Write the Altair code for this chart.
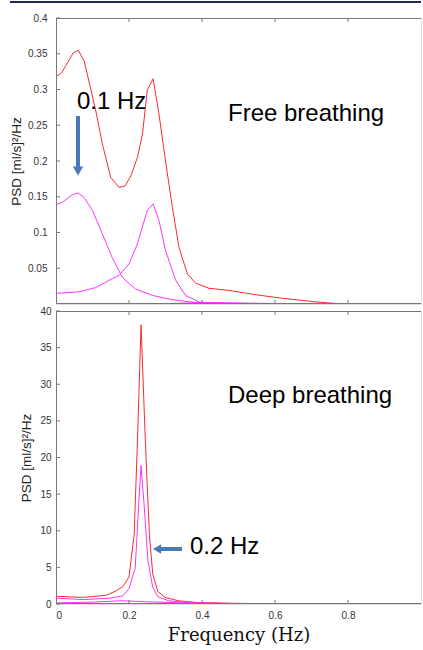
import altair as alt
import pandas as pd

# ---------------- data ----------------
# Free breathing panel
top_red_f = [0, 0.015, 0.047, 0.061, 0.077, 0.09, 0.109, 0.127, 0.150, 0.173, 0.189, 0.205, 0.223, 0.237,
             0.250, 0.266, 0.282, 0.300, 0.319, 0.337, 0.360, 0.383, 0.419, 0.474, 0.547, 0.620, 0.711, 0.784, 1.0]
top_red_p = [0.318, 0.323, 0.351, 0.355, 0.340, 0.312, 0.270, 0.224, 0.177, 0.163, 0.165, 0.179, 0.205, 0.238,
             0.299, 0.315, 0.266, 0.200, 0.135, 0.079, 0.042, 0.029, 0.022, 0.019, 0.013, 0.008, 0.003, 0.0, 0.0]

top_mag1_f = [0, 0.017, 0.045, 0.061, 0.077, 0.10, 0.127, 0.154, 0.182, 0.218, 0.264, 0.319, 0.383, 0.47, 1.0]
top_mag1_p = [0.139, 0.142, 0.153, 0.155, 0.149, 0.131, 0.098, 0.065, 0.037, 0.021, 0.012, 0.006, 0.002, 0.0, 0.0]

top_mag2_f = [0, 0.063, 0.109, 0.145, 0.173, 0.2, 0.223, 0.25, 0.266, 0.282, 0.300, 0.328, 0.355, 0.392, 0.437, 1.0]
top_mag2_p = [0.015, 0.017, 0.023, 0.033, 0.040, 0.056, 0.084, 0.131, 0.140, 0.117, 0.075, 0.033, 0.012, 0.003, 0.0, 0.0]

top_mag3_f = [0, 0.3, 0.40, 0.45, 0.55, 0.7, 1.0]
top_mag3_p = [0.0, 0.0005, 0.002, 0.002, 0.001, 0.0, 0.0]

# Deep breathing panel
bot_red_f = [0, 0.075, 0.138, 0.165, 0.184, 0.2, 0.214, 0.223, 0.233, 0.245, 0.256, 0.265, 0.279, 0.299,
             0.335, 0.388, 0.478, 0.6, 1.0]
bot_red_p = [1.05, 0.9, 1.2, 1.8, 2.4, 3.7, 9.4, 22, 38.1, 22, 9.4, 4.1, 1.7, 0.9, 0.45, 0.2, 0.1, 0.03, 0.0]

bot_mag1_f = [0, 0.075, 0.147, 0.183, 0.2, 0.217, 0.226, 0.233, 0.242, 0.252, 0.265, 0.279, 0.308, 0.353,
              0.433, 0.6, 1.0]
bot_mag1_p = [0.8, 0.6, 0.8, 1.1, 2.1, 4.9, 13.1, 18.9, 13.1, 5.9, 2.3, 1.0, 0.45, 0.2, 0.1, 0.0, 0.0]

bot_mag2_f = [0, 0.1, 0.18, 0.25, 0.35, 0.5, 1.0]
bot_mag2_p = [0.15, 0.25, 0.45, 0.3, 0.15, 0.05, 0.0]

x_tick_values = [0, 0.2, 0.4, 0.6, 0.8]
top_y_ticks = [0.05, 0.1, 0.15, 0.2, 0.25, 0.3, 0.35, 0.4]
bot_y_ticks = [0, 5, 10, 15, 20, 25, 30, 35, 40]

series_names = ["total", "comp1", "comp2", "comp3"]
series_colors = ["#ff2a2a", "#ff33ff", "#ff33ff", "#ff33ff"]


def long_df(items):
    frames = []
    for name, f, p in items:
        frames.append(pd.DataFrame({"f": f, "psd": p, "series": name}))
    return pd.concat(frames, ignore_index=True)


top_df = long_df([("total", top_red_f, top_red_p), ("comp1", top_mag1_f, top_mag1_p),
                  ("comp2", top_mag2_f, top_mag2_p), ("comp3", top_mag3_f, top_mag3_p)])
bot_df = long_df([("total", bot_red_f, bot_red_p), ("comp1", bot_mag1_f, bot_mag1_p),
                  ("comp2", bot_mag2_f, bot_mag2_p)])

W, H_TOP, H_BOT = 365, 286, 293
ARROW = "#4a78b8"
FRAME = "#777"
ytitle = "PSD [ml/s]²/Hz"

color_enc = alt.Color("series:N", scale=alt.Scale(domain=series_names, range=series_colors), legend=None)
one = pd.DataFrame({"a": [0]})


def panel(df, ydomain, yticks, yfmt, w, h, show_x, label_pad, title_pad):
    xscale = alt.Scale(domain=[0, 1], nice=False, zero=False)
    yscale = alt.Scale(domain=ydomain, nice=False)
    if show_x:
        xaxis = alt.Axis(values=x_tick_values, format="~g", grid=False, domain=False, ticks=False,
                         labelFontSize=10, labelColor="#333", labelPadding=6, labelFont="Liberation Sans",
                         title="Frequency (Hz)", titleFont="DejaVu Serif", titleFontSize=18,
                         titleFontWeight="normal", titleColor="#111", titlePadding=6)
    else:
        xaxis = None
    yaxis = alt.Axis(values=yticks, format=yfmt, grid=False, domain=False, ticks=False,
                     labelOverlap=False, labelFlush=False,
                     labelFontSize=10, labelColor="#333", labelPadding=label_pad, labelFont="Liberation Sans",
                     title=ytitle, titleFont="Liberation Sans", titleFontSize=13.5,
                     titleFontWeight="normal", titleColor="#222", titlePadding=title_pad)

    lines = alt.Chart(df).mark_line(strokeWidth=1, clip=True).encode(
        x=alt.X("f:Q", scale=xscale, axis=xaxis, title="Frequency (Hz)"),
        y=alt.Y("psd:Q", scale=yscale, axis=yaxis, title=ytitle),
        color=color_enc,
        detail="series:N",
    )
    xt = pd.DataFrame({"f": x_tick_values[1:]})
    ticks_bottom = alt.Chart(xt).mark_rule(color=FRAME, strokeWidth=1).encode(
        x=alt.X("f:Q", scale=xscale, axis=xaxis, title="Frequency (Hz)"),
        y=alt.value(h), y2=alt.value(h - 4))
    ticks_top = alt.Chart(xt).mark_rule(color=FRAME, strokeWidth=1).encode(
        x=alt.X("f:Q", scale=xscale, axis=xaxis, title="Frequency (Hz)"),
        y=alt.value(0), y2=alt.value(4))
    yt = pd.DataFrame({"psd": yticks})
    ticks_left = alt.Chart(yt).mark_rule(color=FRAME, strokeWidth=1).encode(
        y=alt.Y("psd:Q", scale=yscale, axis=yaxis, title=ytitle), x=alt.value(0), x2=alt.value(4))
    frame_top = alt.Chart(one).mark_rule(color=FRAME, strokeWidth=1).encode(
        x=alt.value(0), x2=alt.value(w), y=alt.value(0.5))
    frame_bottom = alt.Chart(one).mark_rule(color=FRAME, strokeWidth=1).encode(
        x=alt.value(0), x2=alt.value(w), y=alt.value(h - 0.5))
    frame_left = alt.Chart(one).mark_rule(color=FRAME, strokeWidth=1).encode(
        x=alt.value(0.5), y=alt.value(0), y2=alt.value(h))
    return [lines, ticks_bottom, ticks_top, ticks_left, frame_top, frame_bottom, frame_left]


def text_mark(txt, x, y, size):
    return alt.Chart(pd.DataFrame({"t": [txt]})).mark_text(
        align="left", baseline="middle", font="Liberation Sans", fontSize=size, color="#000"
    ).encode(text="t:N", x=alt.value(x), y=alt.value(y))


# top panel
layers_t = panel(top_df, [0, 0.4], top_y_ticks, ".2~f", W, H_TOP, False, 9, 4)
arrow_t_shaft = alt.Chart(one).mark_rule(color=ARROW, strokeWidth=4).encode(
    x=alt.value(22), y=alt.value(98), y2=alt.value(150))
arrow_t_head = alt.Chart(one).mark_point(shape="triangle-down", filled=True, color=ARROW, size=110, opacity=1).encode(
    x=alt.value(22), y=alt.value(153))
header_line = alt.Chart(one).mark_rule(color="#1c2c4c", strokeWidth=2).encode(
    x=alt.value(-46), x2=alt.value(W), y=alt.value(-16))
top_chart = alt.layer(
    *layers_t, arrow_t_shaft, arrow_t_head, header_line,
    text_mark("0.1 Hz", 21, 84, 24),
    text_mark("Free breathing", 172, 96, 24),
).properties(width=W, height=H_TOP)

# bottom panel
layers_b = panel(bot_df, [0, 40], bot_y_ticks, "~g", W, H_BOT, True, 5, 6)
arrow_b_shaft = alt.Chart(one).mark_rule(color=ARROW, strokeWidth=4).encode(
    x=alt.value(103), x2=alt.value(126), y=alt.value(238))
arrow_b_head = alt.Chart(one).mark_point(shape="triangle-left", filled=True, color=ARROW, size=90, opacity=1).encode(
    x=alt.value(101), y=alt.value(238))
bot_chart = alt.layer(
    *layers_b, arrow_b_shaft, arrow_b_head,
    text_mark("0.2 Hz", 134, 236, 24),
    text_mark("Deep breathing", 172, 85, 24),
).properties(width=W, height=H_BOT)

chart = alt.vconcat(top_chart, bot_chart, spacing=7, bounds="flush").properties(
    padding={"left": 8, "top": 0, "right": 0, "bottom": 5}
).configure_view(stroke=None).configure(background="white")

chart.save("out.html", embed_options={"renderer": "svg", "actions": False})
